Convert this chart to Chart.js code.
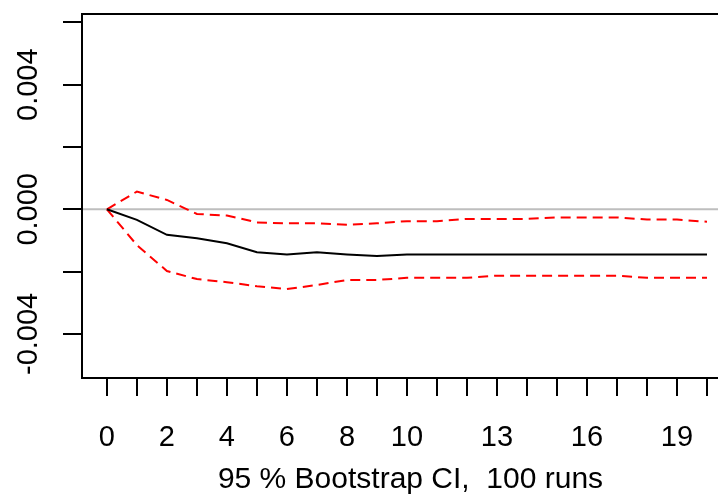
<!DOCTYPE html>
<html>
<head>
<meta charset="utf-8">
<title>Impulse response</title>
<script src="https://cdn.jsdelivr.net/npm/chart.js@4"></script>
<style>
  html, body { margin: 0; padding: 0; background: #fff; overflow: hidden; }
  #irf { position: absolute; left: 0; top: 0; }
</style>
</head>
<body>
<canvas id="irf" width="740" height="501"></canvas>
<script>
// Orthogonal impulse response with bootstrap bands
const horizon = [0, 1, 2, 3, 4, 5, 6, 7, 8, 9, 10, 11, 12, 13, 14, 15, 16, 17, 18, 19, 20]
const response = [0, -0.00034, -0.00082, -0.00093, -0.00109, -0.00138, -0.00145, -0.00138, -0.00145, -0.0015,
    -0.00145, -0.00145, -0.00145, -0.00145, -0.00145, -0.00145, -0.00145, -0.00145, -0.00145, -0.00145, -0.00145]
const upper = [0, 0.00057, 0.0003, -0.00015, -0.0002, -0.00042, -0.00045, -0.00045, -0.0005, -0.00045,
    -0.00038, -0.00038, -0.00031, -0.00031, -0.00031, -0.00026, -0.00026, -0.00026, -0.00033, -0.00033, -0.0004]
const lower = [0, -0.00115, -0.00198, -0.00224, -0.00234, -0.00247, -0.00256, -0.00243, -0.00227, -0.00227,
    -0.0022, -0.0022, -0.0022, -0.00213, -0.00213, -0.00213, -0.00213, -0.00213, -0.0022, -0.0022, -0.0022]

const xTicks = [0, 1, 2, 3, 4, 5, 6, 7, 8, 9, 10, 11, 12, 13, 14, 15, 16, 17, 18, 19, 20]
const xTickLabels = ["0", "2", "4", "6", "8", "10", "13", "16", "19"]
const yTicks = [-0.004, -0.002, 0, 0.002, 0.004, 0.006]
const yTickLabels = ["-0.004", "0.000", "0.004"]
const xTitle = "95 % Bootstrap CI,  100 runs"

const FONT = '29px "Liberation Sans", Arial, sans-serif'
const TITLE_FONT = '30px "Liberation Sans", Arial, sans-serif'

const toPoints = (ys) => horizon.map((h, i) => ({ x: h, y: ys[i] }))

// base-graphics style box, ticks and labels
const rAxes = {
    id: "rAxes",
    beforeDatasetsDraw(chart) {
        const { ctx, chartArea, scales } = chart
        const y0 = scales.y.getPixelForValue(0)
        ctx.save()
        ctx.strokeStyle = "#bebebe"
        ctx.lineWidth = 2
        ctx.beginPath()
        ctx.moveTo(chartArea.left, y0)
        ctx.lineTo(chartArea.right, y0)
        ctx.stroke()
        ctx.restore()
    },
    afterDraw(chart) {
        const { ctx, chartArea, scales } = chart
        const { left, right, top, bottom } = chartArea
        ctx.save()
        ctx.strokeStyle = "#000"
        ctx.fillStyle = "#000"
        ctx.lineWidth = 2
        ctx.strokeRect(left, top, right - left, bottom - top)

        // y axis
        ctx.beginPath()
        yTicks.forEach((v) => {
            const py = Math.round(scales.y.getPixelForValue(v))
            ctx.moveTo(left - 19, py)
            ctx.lineTo(left, py)
        })
        ctx.stroke()
        ctx.font = FONT
        ctx.textAlign = "center"
        ctx.textBaseline = "alphabetic"
        yTickLabels.forEach((lab) => {
            const py = scales.y.getPixelForValue(parseFloat(lab))
            ctx.save()
            ctx.translate(37, py)
            ctx.rotate(-Math.PI / 2)
            ctx.fillText(lab, 0, 0)
            ctx.restore()
        })

        // x axis
        ctx.beginPath()
        xTicks.forEach((v) => {
            const px = Math.round(scales.x.getPixelForValue(v))
            ctx.moveTo(px, bottom)
            ctx.lineTo(px, bottom + 18)
        })
        ctx.stroke()
        xTickLabels.forEach((lab) => {
            ctx.fillText(lab, scales.x.getPixelForValue(Number(lab)), 446)
        })
        ctx.font = TITLE_FONT
        ctx.fillText(xTitle, (left + right) / 2 + 4, 488)
        ctx.restore()
    },
}

new Chart(document.getElementById("irf"), {
    type: "line",
    data: {
        datasets: [
            {
                label: "response",
                data: toPoints(response),
                borderColor: "#000",
                borderWidth: 2,
            },
            {
                label: "upper",
                data: toPoints(upper),
                borderColor: "#ff0000",
                borderWidth: 2,
                borderDash: [10, 6],
            },
            {
                label: "lower",
                data: toPoints(lower),
                borderColor: "#ff0000",
                borderWidth: 2,
                borderDash: [10, 6],
            },
        ],
    },
    options: {
        responsive: false,
        animation: false,
        events: [],
        elements: {
            line: { tension: 0, fill: false },
            point: { radius: 0 },
        },
        layout: {
            padding: { left: 82, top: 14, right: 9, bottom: 123 },
        },
        plugins: {
            legend: { display: false },
            tooltip: { enabled: false },
        },
        scales: {
            x: { type: "linear", min: -0.83, max: 20.8, display: false },
            y: { type: "linear", min: -0.005416, max: 0.00627, display: false },
        },
    },
    plugins: [rAxes],
})
</script>
</body>
</html>
